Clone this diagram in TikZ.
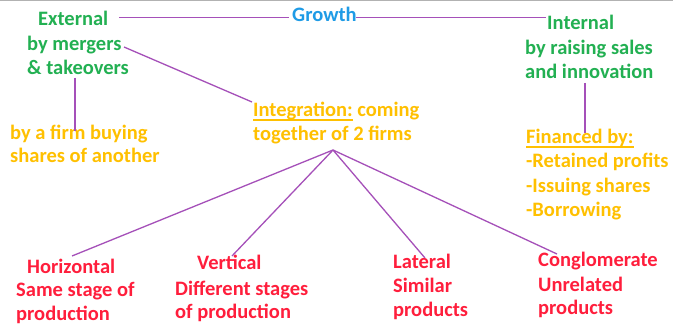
\documentclass[tikz,border=0pt]{standalone}
\usepackage{fontspec}
\setmainfont{Carlito}
\definecolor{cgreen}{RGB}{34,176,82}
\definecolor{cblue}{RGB}{30,155,230}
\definecolor{cgold}{RGB}{255,192,0}
\definecolor{cred}{RGB}{255,30,60}
\definecolor{cline}{RGB}{165,80,185}
\newcommand\myul[1]{\setbox0\hbox{#1}\rlap{\rule[-3.6pt]{\wd0}{1.1pt}}\box0\relax}
\begin{document}
\begin{tikzpicture}[x=1pt,y=-1pt,
  txt/.style={anchor=base west, inner sep=0pt, font=\fontsize{20.5}{24}\selectfont\bfseries},
  grn/.style={txt, text=cgreen},
  blu/.style={txt, text=cblue},
  gld/.style={txt, text=cgold},
  rd/.style={txt, text=cred},
  link/.style={draw=cline, line width=1.3pt}]
\useasboundingbox (0,0) rectangle (673,326);
\fill[white] (0,0) rectangle (673,326);
\draw[black!30, line width=1pt] (0,0.5) -- (673,0.5);

% top row
\node[blu] (growth) at (292,22) {Growth};
\node[grn] (ext1) at (38,26) {External};
\node[grn] (ext2) at (27,51) {by mergers};
\node[grn] (ext3) at (27,75) {\& takeovers};
\node[grn] (in1) at (547,30) {Internal};
\node[grn] (in2) at (525,55) {by raising sales};
\node[grn] (in3) at (525,79) {and innovation};

% middle
\node[gld] (buy1) at (10,139.5) {by a firm buying};
\node[gld] (buy2) at (10,163) {shares of another};
\node[gld] (int1) at (253,117) {\myul{Integration:} coming};
\node[gld] (int2) at (253,141) {together of 2 firms};
\node[gld] (fin1) at (526,144) {\myul{Financed by:}};
\node[gld] (fin2) at (526,168) {-Retained profits};
\node[gld] (fin3) at (526,193) {-Issuing shares};
\node[gld] (fin4) at (526,217) {-Borrowing};

% bottom
\node[rd] (h1) at (27,273) {Horizontal};
\node[rd] (h2) at (16,297) {Same stage of};
\node[rd] (h3) at (16,320) {production};
\node[rd] (v1) at (197,270) {Vertical};
\node[rd] (v2) at (175,296) {Different stages};
\node[rd] (v3) at (175,319) {of production};
\node[rd] (l1) at (393,268.5) {Lateral};
\node[rd] (l2) at (393,292.5) {Similar};
\node[rd] (l3) at (393,316.5) {products};
\node[rd] (c1) at (538,266.5) {Conglomerate};
\node[rd] (c2) at (538,291) {Unrelated};
\node[rd] (c3) at (538,315) {products};

% connector end points
\coordinate (extR) at (119,17.5);
\coordinate (growL) at (289,17.5);
\coordinate (growR) at (356,17.5);
\coordinate (inL) at (546,17.5);
\coordinate (mergR) at (124,47);
\coordinate (intL) at (252,102);
\coordinate (extB) at (75,78);
\coordinate (buyT) at (75,131);
\coordinate (inB) at (585,83);
\coordinate (finT) at (585,133);
\coordinate (apex) at (333,150);
\coordinate (hT) at (72,256);
\coordinate (vT) at (232,256);
\coordinate (lT) at (425,258);
\coordinate (cT) at (557,254);

\draw[link] (extR) -- (growL);
\draw[link] (growR) -- (inL);
\draw[link] (mergR) -- (intL);
\draw[link] (extB) -- (buyT);
\draw[link] (inB) -- (finT);
\draw[link] (apex) -- (hT);
\draw[link] (apex) -- (vT);
\draw[link] (apex) -- (lT);
\draw[link] (apex) -- (cT);
\end{tikzpicture}
\end{document}
